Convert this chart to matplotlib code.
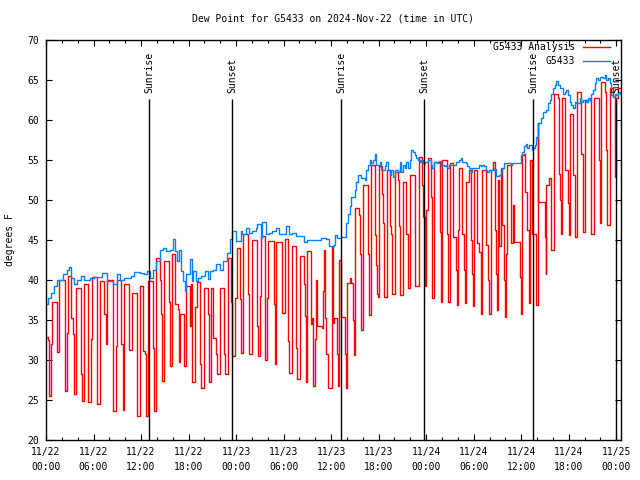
import pandas as pd
import matplotlib
matplotlib.use('Agg')
import matplotlib.pyplot as plt
import matplotlib.dates as mdates

# данные: часы от 2024-11-22 00:00 UTC и точка росы (F)
red_hours = [0.0, 0.3, 0.42, 0.67, 0.8, 1.34, 1.43, 1.64, 2.4, 2.69,
             2.82, 3.19, 3.36, 3.49, 3.78, 4.37, 4.58, 4.83, 5.34, 5.71,
             5.84, 6.47, 6.76, 7.35, 7.52, 7.73, 8.4, 8.78, 8.91, 9.5,
             9.66, 9.75, 9.83, 10.5, 10.88, 11.51, 11.85, 11.93, 12.27, 12.48,
             12.6, 12.86, 13.45, 13.53, 13.66, 13.87, 14.37, 14.5, 14.62, 14.87,
             15.55, 15.71, 15.92, 16.26, 16.68, 16.76, 16.89, 17.44, 17.73, 18.15,
             18.36, 18.49, 18.82, 19.08, 19.41, 19.62, 19.96, 20.42, 20.55, 20.88,
             21.09, 21.51, 21.6, 21.93, 22.44, 22.61, 22.94, 23.4, 23.53, 23.9,
             24.12, 24.5, 24.58, 24.87, 25.5, 25.63, 25.97, 26.05, 26.6, 26.68,
             26.76, 26.97, 27.1, 27.6, 27.65, 27.94, 28.07, 28.78, 28.87, 28.91,
             29.08, 29.75, 29.83, 30.17, 30.59, 30.67, 31.01, 31.51, 31.64, 32.02,
             32.56, 32.65, 32.77, 32.98, 33.4, 33.53, 33.74, 33.95, 34.03, 34.16,
             34.79, 34.96, 35.08, 35.21, 35.38, 35.63, 36.05, 36.13, 36.2, 36.39,
             36.68, 36.81, 36.97, 37.31, 37.73, 37.82, 37.98, 38.36, 38.57, 38.78,
             38.87, 39.0, 39.5, 39.62, 39.75, 40.04, 40.67, 40.8, 41.01, 41.51,
             41.64, 41.81, 41.93, 42.02, 42.44, 42.56, 42.69, 43.11, 43.4, 43.61,
             43.74, 44.03, 44.45, 44.58, 44.75, 45.08, 45.5, 45.71, 46.01, 46.64,
             47.06, 47.48, 47.61, 47.82, 48.03, 48.24, 48.57, 48.7, 48.78, 48.99,
             49.71, 49.83, 50.04, 50.67, 50.8, 51.01, 51.39, 51.72, 51.85, 52.02,
             52.14, 52.56, 52.77, 52.86, 53.07, 53.4, 53.61, 53.82, 53.95, 54.03,
             54.37, 54.66, 54.87, 55.08, 55.5, 55.8, 55.92, 56.13, 56.47, 56.68,
             56.76, 56.89, 57.06, 57.18, 57.39, 57.61, 57.82, 57.94, 58.11, 58.24,
             58.66, 59.0, 59.08, 59.71, 59.83, 59.92, 60.13, 60.34, 60.5, 60.67,
             60.97, 61.01, 61.09, 61.3, 61.85, 62.06, 62.14, 63.0, 63.07, 63.11,
             63.53, 63.82, 64.12, 64.66, 64.79, 64.96, 65.08, 65.21, 65.5, 65.92,
             66.01, 66.13, 66.55, 66.76, 66.85, 67.1, 67.61, 67.82, 68.11, 68.78,
             68.87, 69.16, 69.83, 69.92, 70.13, 70.55, 70.76, 70.88, 71.26, 71.6,
             71.81, 71.89, 72.02, 72.23, 72.5]
red_vals = [32.9, 32.5, 25.5, 32.0, 37.3, 34.3, 31.0, 40.0, 26.1, 33.4,
            40.5, 35.3, 33.2, 25.7, 39.0, 28.2, 24.9, 39.5, 24.7, 32.6,
            40.4, 24.5, 39.9, 35.8, 32.0, 40.0, 23.6, 31.8, 40.0, 32.0,
            27.8, 23.8, 39.5, 31.3, 38.4, 23.0, 31.1, 39.3, 31.1, 30.7,
            23.0, 39.9, 35.5, 31.5, 23.6, 42.8, 40.0, 35.7, 27.4, 42.4,
            37.2, 29.3, 43.2, 37.0, 36.4, 29.7, 35.7, 29.3, 39.3, 34.2,
            39.5, 27.2, 36.6, 39.7, 29.5, 26.5, 39.0, 35.7, 27.2, 39.0,
            32.8, 30.7, 28.2, 39.0, 30.7, 28.2, 42.8, 37.2, 30.5, 37.8,
            44.0, 37.6, 30.9, 45.7, 38.2, 30.7, 38.0, 45.0, 41.5, 34.25,
            30.5, 38.0, 45.5, 33.8, 30.0, 37.8, 44.9, 37.0, 33.6, 29.5,
            44.7, 40.5, 35.9, 45.1, 32.4, 28.4, 44.25, 31.5, 27.6, 43.0,
            39.5, 35.5, 27.2, 43.6, 34.5, 35.25, 26.75, 32.6, 40.0, 34.3,
            34.0, 38.6, 43.8, 35.2, 30.7, 26.5, 34.5, 44.3, 34.6, 35.2,
            30.8, 26.7, 42.5, 35.4, 30.8, 26.5, 39.6, 40.2, 39.6, 35.0,
            30.6, 49.0, 48.1, 43.3, 33.75, 51.9, 43.3, 35.6, 54.4, 45.6,
            41.9, 38.3, 37.9, 54.2, 50.8, 47.1, 37.9, 53.75, 46.7, 45.8,
            38.3, 53.5, 52.5, 46.7, 38.1, 52.3, 45.8, 39.0, 53.1, 39.2,
            55.4, 51.9, 47.9, 39.2, 48.8, 55.2, 50.4, 41.9, 37.7, 54.8,
            46.0, 37.3, 55.0, 45.8, 37.3, 54.6, 45.4, 41.25, 36.9, 46.25,
            54.0, 45.8, 41.25, 37.1, 52.3, 53.75, 45.0, 40.8, 36.7, 53.75,
            44.6, 43.5, 35.8, 53.75, 44.4, 40.0, 35.8, 53.75, 54.8, 46.25,
            40.8, 36.25, 52.5, 44.2, 54.0, 46.9, 40.0, 35.4, 43.3, 54.4,
            44.6, 49.4, 44.8, 44.8, 40.4, 35.8, 55.6, 55.8, 51.0, 46.25,
            41.7, 37.1, 55.0, 45.8, 36.9, 59.6, 49.8, 45.4, 40.8, 51.9,
            52.7, 43.75, 63.3, 62.7, 53.3, 50.0, 45.8, 62.7, 53.75, 49.6,
            45.6, 60.8, 53.1, 49.0, 45.4, 63.5, 55.8, 46.0, 62.5, 55.0,
            45.8, 62.7, 55.0, 47.1, 64.8, 63.5, 56.25, 46.9, 64.0, 62.9,
            59.2, 52.9, 62.7, 64.0, 64.0]

blue_hours = [0.0, 0.3, 0.6, 1.0, 1.4, 2.1, 2.7, 2.9, 3.1, 3.5,
              3.9, 4.4, 4.8, 5.6, 6.05, 6.5, 7.1, 7.7, 8.4, 9.0,
              9.4, 9.8, 10.7, 11.1, 11.9, 12.35, 12.7, 13.1, 13.5, 13.95,
              14.4, 14.8, 15.2, 15.6, 16.05, 16.3, 16.5, 16.8, 17.1, 17.3,
              17.5, 17.7, 18.2, 18.4, 18.6, 19.0, 19.2, 19.6, 20.05, 20.5,
              20.7, 21.1, 21.5, 22.0, 22.4, 22.8, 23.2, 23.5, 24.0, 24.58,
              24.79, 25.2, 25.63, 26.05, 26.47, 26.68, 27.1, 27.31, 27.73, 28.15,
              28.57, 28.99, 29.41, 29.83, 30.25, 30.67, 31.09, 31.51, 32.35, 32.56,
              33.0, 34.5, 34.66, 35.29, 35.71, 36.3, 36.47, 36.68, 37.31, 37.94,
              38.15, 38.36, 38.57, 38.99, 39.2, 39.41, 39.83, 40.25, 40.46, 40.67,
              40.88, 41.09, 41.3, 41.51, 41.72, 42.14, 42.35, 42.77, 42.98, 43.19,
              43.4, 43.61, 43.82, 44.03, 44.45, 44.66, 44.87, 45.08, 45.29, 45.5,
              45.71, 45.92, 46.13, 46.34, 46.55, 46.76, 46.97, 47.18, 47.39, 47.6,
              47.82, 48.24, 48.57, 48.78, 48.99, 49.41, 49.62, 49.83, 50.04, 50.25,
              50.46, 50.67, 50.88, 51.3, 51.72, 52.14, 52.35, 52.56, 52.98, 53.19,
              53.4, 53.61, 53.82, 54.24, 54.66, 54.87, 55.08, 55.29, 55.5, 55.71,
              55.92, 56.55, 56.76, 57.18, 57.39, 57.6, 57.81, 58.66, 58.87, 59.5,
              59.92, 60.13, 60.34, 60.55, 60.76, 61.0, 61.3, 61.51, 61.72, 61.93,
              62.14, 62.56, 62.77, 63.19, 63.4, 63.61, 63.82, 64.03, 64.24, 64.45,
              64.66, 64.87, 65.29, 65.5, 65.71, 65.92, 66.13, 66.34, 66.55, 66.76,
              66.97, 67.39, 67.6, 67.82, 68.24, 68.45, 68.66, 68.87, 69.08, 69.29,
              69.5, 69.71, 69.92, 70.34, 70.55, 70.76, 70.97, 71.18, 71.39, 71.6,
              71.81, 72.02, 72.23, 72.5]
blue_vals = [37.0, 37.8, 38.4, 39.2, 40.0, 40.7, 41.3, 41.6, 40.3, 39.5,
             40.0, 40.5, 40.0, 40.3, 40.4, 40.4, 40.9, 39.9, 39.5, 40.8,
             40.0, 40.3, 40.5, 41.0, 40.9, 40.8, 41.1, 40.3, 41.2, 42.4,
             43.8, 44.0, 43.6, 43.8, 45.1, 43.6, 42.4, 43.8, 41.1, 39.9,
             38.6, 40.7, 42.6, 39.9, 41.1, 39.9, 40.3, 40.5, 41.1, 40.1,
             41.1, 41.3, 42.0, 41.3, 42.4, 43.4, 45.1, 46.1, 44.9, 46.1,
             45.7, 46.5, 45.9, 46.1, 46.5, 47.0, 45.3, 47.2, 45.7, 45.9,
             46.1, 46.5, 45.7, 45.7, 46.75, 45.7, 45.9, 45.5, 45.5, 44.7,
             45.0, 45.0, 45.2, 45.1, 44.25, 44.4, 45.6, 45.2, 45.4, 47.1,
             48.3, 49.2, 50.4, 51.25, 52.3, 53.1, 52.7, 52.5, 53.75, 54.4,
             55.0, 54.6, 55.0, 55.8, 54.4, 54.8, 53.75, 54.2, 54.8, 53.75,
             53.1, 53.75, 52.9, 53.75, 53.5, 54.8, 53.5, 54.4, 54.0, 54.8,
             54.0, 55.0, 56.25, 56.0, 55.6, 55.2, 55.0, 54.8, 55.0, 54.6,
             54.8, 55.0, 54.4, 54.0, 54.8, 54.6, 54.9, 54.2, 54.4, 54.2,
             54.4, 54.0, 54.4, 54.4, 54.8, 55.0, 55.2, 54.8, 54.6, 54.2,
             54.0, 53.5, 54.0, 54.0, 54.4, 54.2, 54.4, 54.2, 53.75, 53.5,
             53.75, 53.9, 53.0, 53.1, 53.5, 54.0, 54.6, 54.4, 54.6, 54.6,
             55.6, 56.0, 56.7, 57.0, 56.5, 56.9, 56.25, 56.5, 56.9, 57.9,
             59.6, 60.2, 61.0, 61.25, 62.1, 62.5, 63.3, 64.0, 64.4, 64.9,
             64.4, 64.0, 63.3, 63.5, 63.75, 63.1, 62.3, 61.9, 61.5, 62.3,
             62.1, 62.7, 62.3, 62.5, 62.3, 62.7, 62.5, 63.3, 63.75, 64.6,
             65.2, 65.0, 65.4, 65.2, 65.6, 65.0, 65.2, 64.6, 63.1, 62.9,
             63.3, 63.1, 63.5, 63.3]

sun_hours = [13.04, 23.52, 37.31, 47.77, 61.53, 72.02]
sun_names = ['Sunrise', 'Sunset', 'Sunrise', 'Sunset', 'Sunrise', 'Sunset']

start = pd.Timestamp('2024-11-22 00:00')
red_t = start + pd.to_timedelta(red_hours, unit='h')
blue_t = start + pd.to_timedelta(blue_hours, unit='h')
sun_t = start + pd.to_timedelta(sun_hours, unit='h')

plt.rcParams['font.family'] = 'DejaVu Sans Mono'
plt.rcParams['font.size'] = 7

fig = plt.figure(figsize=(6.4, 4.8), dpi=100)
ax = fig.add_axes([46 / 640, 40 / 480, 575 / 640, 400 / 480])

ax.plot(red_t, red_vals, color='#ff0000', lw=1.0, drawstyle='steps-post', label='G5433 Analysis')
ax.plot(blue_t, blue_vals, color='#0080ff', lw=1.0, drawstyle='steps-post', label='G5433')

for t, name in zip(sun_t, sun_names):
    ax.vlines(t, 20, 62.6, color='black', lw=1.0, zorder=5)
    ax.text(t, 63.4, name, rotation=90, ha='center', va='bottom', fontsize=7)

ax.set_xlim(start, start + pd.Timedelta(hours=72.6))
ax.set_ylim(20, 70)
ax.set_yticks(range(20, 71, 5))

ax.xaxis.set_major_locator(mdates.HourLocator(byhour=[0, 6, 12, 18]))
ax.xaxis.set_minor_locator(mdates.HourLocator(byhour=range(0, 24, 2)))
ax.xaxis.set_major_formatter(mdates.DateFormatter('%m/%d\n%H:%M'))

ax.tick_params(which='both', direction='in', top=True, right=True, width=0.8)
ax.tick_params(which='major', length=4, pad=5)
ax.tick_params(which='minor', length=2)
for sp in ax.spines.values():
    sp.set_linewidth(1.0)

ax.set_title('Dew Point for G5433 on 2024-Nov-22 (time in UTC)', pad=13, fontsize=7)
ax.set_ylabel('degrees F')
ax.yaxis.set_label_coords(-0.054, 0.5)

ax.legend(loc='upper right', bbox_to_anchor=(0.981, 0.995), frameon=False,
          markerfirst=False, borderpad=0, borderaxespad=0, handlelength=2.8,
          handletextpad=0.8, labelspacing=0.45)

fig.canvas.draw()
for lbl in ax.get_xticklabels():
    lbl.set_linespacing(1.6)

fig.savefig('out.png', dpi=100)
